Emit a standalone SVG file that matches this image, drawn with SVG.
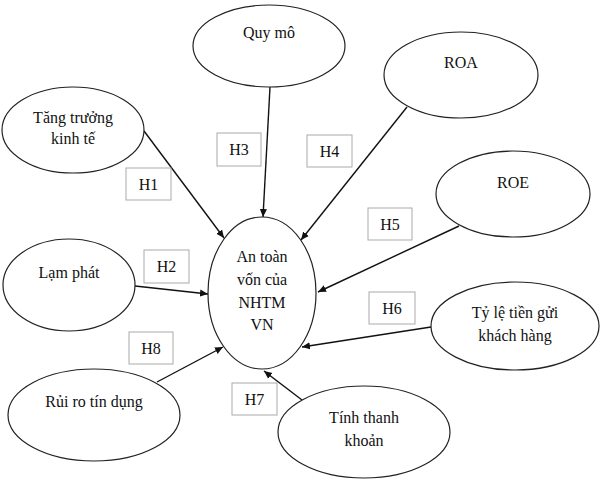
<svg xmlns="http://www.w3.org/2000/svg" width="601" height="494" viewBox="0 0 601 494">
<style>
.n{fill:#fff;stroke:#222;stroke-width:1.2}
.t{font-family:"Liberation Serif","Times New Roman",serif;font-size:16px;fill:#111;text-anchor:middle}
.b{fill:#fff;stroke:#aaa;stroke-width:1}
.c{stroke:#111;stroke-width:1.4;fill:none}
</style>
<defs>
<marker id="ah" viewBox="0 0 10 10" refX="10" refY="5" markerWidth="8" markerHeight="8" markerUnits="userSpaceOnUse" orient="auto">
<path d="M0,0.5 L10,5 L0,9.5 z" fill="#111"/>
</marker>
</defs>
<rect width="601" height="494" fill="#fff"/>
<g id="connectors">
<line class="c" x1="144" y1="131" x2="224" y2="238" marker-end="url(#ah)"/>
<line class="c" x1="270" y1="87" x2="263" y2="217" marker-end="url(#ah)"/>
<line class="c" x1="407" y1="107" x2="301" y2="240" marker-end="url(#ah)"/>
<line class="c" x1="459" y1="226" x2="318" y2="292" marker-end="url(#ah)"/>
<line class="c" x1="431" y1="327" x2="302" y2="347" marker-end="url(#ah)"/>
<line class="c" x1="135" y1="286" x2="208" y2="294" marker-end="url(#ah)"/>
<line class="c" x1="157" y1="382" x2="223" y2="347" marker-end="url(#ah)"/>
<line class="c" x1="302" y1="400" x2="264" y2="371" marker-end="url(#ah)"/>
</g>
<g id="labels">
<g id="lbl-h1"><rect class="b" x="126" y="168" width="45" height="32"/><text class="t" x="148.5" y="190">H1</text></g>
<g id="lbl-h2"><rect class="b" x="144" y="250" width="45" height="33"/><text class="t" x="166.5" y="272">H2</text></g>
<g id="lbl-h3"><rect class="b" x="217" y="133" width="44" height="33"/><text class="t" x="239" y="155">H3</text></g>
<g id="lbl-h4"><rect class="b" x="307" y="135" width="45" height="32"/><text class="t" x="329.5" y="157">H4</text></g>
<g id="lbl-h5"><rect class="b" x="368" y="208" width="44" height="32"/><text class="t" x="390" y="230">H5</text></g>
<g id="lbl-h6"><rect class="b" x="369" y="292" width="46" height="32"/><text class="t" x="392" y="314">H6</text></g>
<g id="lbl-h7"><rect class="b" x="232" y="383" width="45" height="32"/><text class="t" x="254.5" y="405">H7</text></g>
<g id="lbl-h8"><rect class="b" x="129" y="332" width="44" height="32"/><text class="t" x="151" y="354">H8</text></g>
</g>
<g id="center"><ellipse class="n" cx="262" cy="293" rx="54" ry="76"/>
<text class="t" x="262" y="262">An toàn</text>
<text class="t" x="262" y="285">vốn của</text>
<text class="t" x="262" y="308">NHTM</text>
<text class="t" x="262" y="330">VN</text></g>
<g id="quy-mo"><ellipse class="n" cx="269" cy="46" rx="76" ry="41"/><text class="t" x="269" y="38">Quy mô</text></g>
<g id="tang-truong"><ellipse class="n" cx="73" cy="130" rx="71" ry="43"/><text class="t" x="73" y="123">Tăng trưởng</text><text class="t" x="73" y="144">kinh tế</text></g>
<g id="roa"><ellipse class="n" cx="461" cy="75" rx="77" ry="43"/><text class="t" x="461" y="68">ROA</text></g>
<g id="roe"><ellipse class="n" cx="513" cy="194" rx="77" ry="43"/><text class="t" x="513" y="188">ROE</text></g>
<g id="lam-phat"><ellipse class="n" cx="69" cy="285" rx="66" ry="46"/><text class="t" x="69" y="278">Lạm phát</text></g>
<g id="rui-ro"><ellipse class="n" cx="94" cy="415" rx="86" ry="46"/><text class="t" x="94" y="407">Rủi ro tín dụng</text></g>
<g id="ty-le"><ellipse class="n" cx="515" cy="326" rx="84" ry="44"/><text class="t" x="515" y="318">Tỷ lệ tiền gửi</text><text class="t" x="515" y="341">khách hàng</text></g>
<g id="thanh-khoan"><ellipse class="n" cx="364" cy="432" rx="86" ry="46"/><text class="t" x="364" y="423">Tính thanh</text><text class="t" x="364" y="446">khoản</text></g>
</svg>
